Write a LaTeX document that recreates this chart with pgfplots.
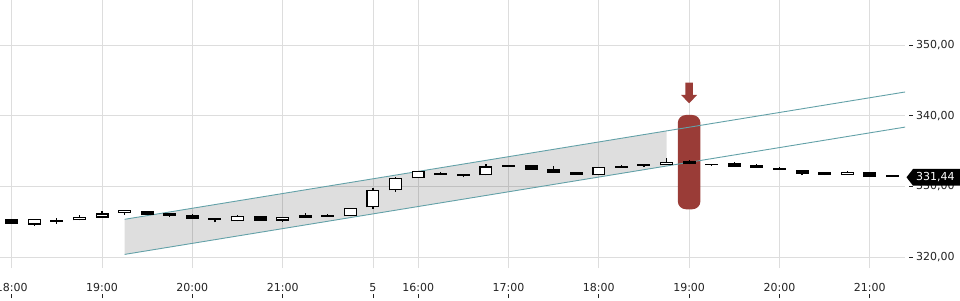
\documentclass[border=0pt]{standalone}
\usepackage{pgfplots}
\usepackage{pgfplotstable}
\pgfplotsset{compat=1.18}
\usepackage{fontspec}
\setmainfont{DejaVu Sans}
\definecolor{gridgray}{HTML}{DDDDDD}
\definecolor{chan}{HTML}{63A1A8}
\definecolor{redbox}{HTML}{9A3C37}
\definecolor{lbl}{HTML}{222222}

\pgfplotstableread{
i b t l h
1 324.62 325.42 324.43 325.42
3 325.23 325.70 325.23 325.94
4 325.60 326.22 325.60 326.55
5 326.31 326.69 325.98 326.69
10 325.09 325.80 325.09 325.98
12 325.18 325.70 325.03 325.70
13 325.60 325.94 325.60 326.26
15 325.80 326.93 325.80 326.93
16 327.07 329.47 326.87 329.75
17 329.47 331.17 329.27 331.39
18 331.17 332.16 331.17 332.16
20 331.48 331.73 331.31 331.73
21 331.59 332.86 331.59 333.19
26 331.59 332.76 331.59 332.76
28 332.92 333.12 332.81 333.12
29 333.00 333.43 333.00 333.99
31 333.02 333.22 332.91 333.22
34 332.36 332.58 332.36 332.81
37 331.68 332.06 331.68 332.24
}\bull

\pgfplotstableread{
i b t l h
0 324.75 325.42 324.75 325.42
2 325.05 325.30 324.75 325.52
6 325.94 326.59 325.94 326.59
7 325.88 326.22 325.70 326.22
8 325.46 325.98 325.46 326.10
9 325.32 325.56 324.95 325.56
11 325.18 325.84 325.18 325.84
14 325.74 325.98 325.74 326.16
19 331.63 331.92 331.63 332.06
22 332.81 333.05 332.81 333.05
23 332.38 333.05 332.38 333.05
24 331.96 332.48 331.96 332.95
25 331.68 332.06 331.68 332.06
27 332.67 332.95 332.67 333.09
30 333.14 333.61 333.14 333.75
32 332.81 333.37 332.81 333.51
33 332.67 333.00 332.67 333.14
35 331.82 332.34 331.63 332.34
36 331.63 332.06 331.63 332.06
38 331.40 332.06 331.40 332.06
39 331.37 331.60 331.37 331.67
}\bear

\begin{document}
\begin{tikzpicture}
\begin{axis}[
  at={(0pt,32pt)}, anchor=south west,
  scale only axis, width=905pt, height=268pt,
  xmin=-0.518, xmax=39.56, ymin=318.49, ymax=356.36,
  axis x line*=bottom, axis y line*=right,
  axis line style={draw=none},
  xtick={0,4,8,12,16,18,22,26,30,34,38},
  xticklabels={18:00,19:00,20:00,21:00,5,16:00,17:00,18:00,19:00,20:00,21:00},
  ytick={320,330,340,350},
  yticklabels={{320,00},{330,00},{340,00},{350,00}},
  tick align=inside,
  major tick length=4pt,
  xtick style={yshift=-30pt, draw=lbl, line width=0.8pt},
  ytick style={xshift=8pt, draw=lbl, line width=0.8pt},
  grid=major,
  major grid style={draw=gridgray, line width=0.8pt},
  tick label style={font=\fontsize{11}{13}\selectfont, text=lbl},
  xticklabel style={anchor=base, yshift=-23.7pt},
  yticklabel style={anchor=west, inner sep=0pt, xshift=11pt},
]
% shaded channel
\addplot[draw=none, fill=black, fill opacity=0.13, forget plot]
  coordinates {(5,325.37) (29,337.86) (29,332.89) (5,320.41)} -- cycle;
% highlight box and arrow
\fill[redbox, rounded corners=8pt] (axis cs:29.5,326.79) rectangle (axis cs:30.5,340.11);
\fill[redbox] (axis cs:29.832,344.67) -- (axis cs:30.168,344.67) -- (axis cs:30.168,342.94)
  -- (axis cs:30.354,342.94) -- (axis cs:30,341.76) -- (axis cs:29.646,342.94)
  -- (axis cs:29.832,342.94) -- cycle;
% channel lines
\addplot[chan, line width=0.9pt, forget plot] coordinates {(5,325.37) (39.6,343.38)};
\addplot[chan, line width=0.9pt, forget plot] coordinates {(5,320.41) (39.6,338.42)};
% wicks
\addplot[draw=none, mark=none, forget plot,
  error bars/.cd, y dir=plus, y explicit, error mark=none,
  error bar style={draw=black, line width=1.2pt}]
  table[x=i, y=l, y error expr={\thisrow{h}-\thisrow{l}}] {\bull};
\addplot[draw=none, mark=none, forget plot,
  error bars/.cd, y dir=plus, y explicit, error mark=none,
  error bar style={draw=black, line width=1.2pt}]
  table[x=i, y=l, y error expr={\thisrow{h}-\thisrow{l}}] {\bear};
% bodies
\addplot[draw=none, mark=none, forget plot,
  error bars/.cd, y dir=plus, y explicit, error mark=none,
  error bar style={draw=black, line width=13pt}]
  table[x=i, y=b, y error expr={\thisrow{t}-\thisrow{b}}] {\bear};
\addplot[draw=none, mark=none, forget plot,
  error bars/.cd, y dir=plus, y explicit, error mark=none,
  error bar style={draw=black, line width=13pt}]
  table[x=i, y=b, y error expr={\thisrow{t}-\thisrow{b}}] {\bull};
\addplot[draw=none, mark=none, forget plot,
  error bars/.cd, y dir=plus, y explicit, error mark=none,
  error bar style={draw=white, line width=10.6pt}]
  table[x=i, y expr={\thisrow{b}+0.17}, y error expr={max(\thisrow{t}-\thisrow{b}-0.34,0)}] {\bull};
\end{axis}
% last price tag
\fill[black] (906.5pt,122.7pt) -- (913pt,131pt) -- (960pt,131pt) -- (960pt,114.3pt) -- (913pt,114.3pt) -- cycle;
\node[anchor=west, inner sep=0pt, text=white, font=\fontsize{11}{13}\selectfont] at (916pt,122.7pt) {331,44};
\pgfresetboundingbox
\path (0,0) rectangle (960pt,300pt);
\end{tikzpicture}
\end{document}
